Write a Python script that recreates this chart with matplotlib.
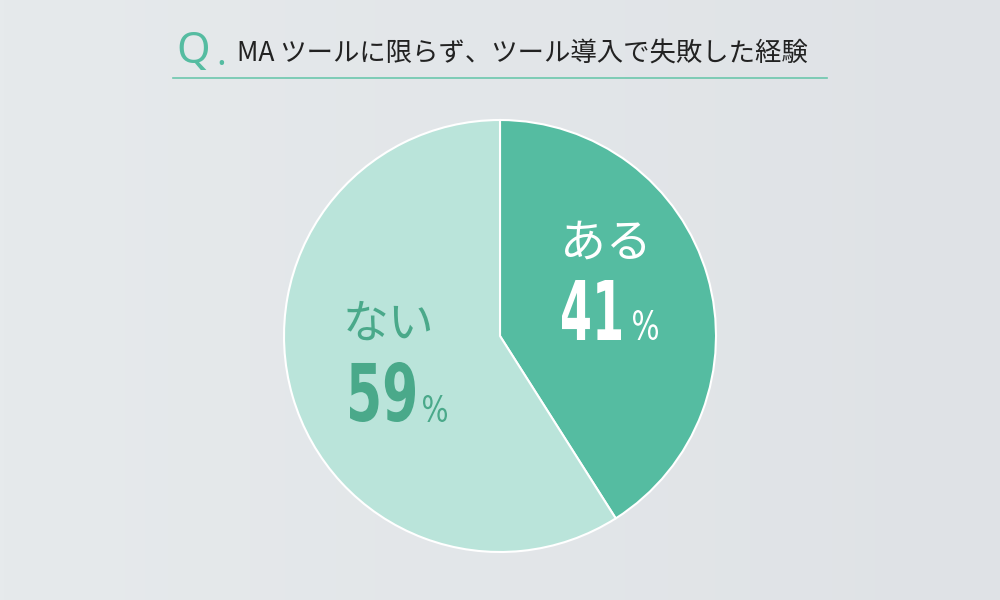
import numpy as np
import matplotlib.pyplot as plt
from matplotlib.colors import LinearSegmentedColormap
from matplotlib.textpath import TextPath
from matplotlib.font_manager import FontProperties
from matplotlib.patches import PathPatch
from matplotlib.transforms import Affine2D

plt.rcParams['font.family'] = ['Noto Sans CJK JP', 'DejaVu Sans']

title = "MA ツールに限らず、ツール導入で失敗した経験"
labels = ["ある", "ない"]
values = [41, 59]
colors = ["#55bca1", "#bae4da"]
text_colors = ["white", "#4aa98a"]

fig = plt.figure(figsize=(10, 6), dpi=100)
ax = fig.add_axes([0, 0, 1, 1])


def fit_text(s, x0, x1, y0, y1, color, family="DejaVu Sans", weight="normal"):
    # draw text squeezed into a pixel box (top y0, bottom y1)
    tp = TextPath((0, 0), s, size=100, prop=FontProperties(family=family, weight=weight))
    ext = tp.get_extents()
    sx = (x1 - x0) / ext.width
    sy = (y1 - y0) / ext.height
    tr = Affine2D().translate(-ext.x0, -ext.y0).scale(sx, -sy).translate(x0, y1)
    ax.add_patch(PathPatch(tr.transform_path(tp), fc=color, ec="none", zorder=3))


# soft background
grad = np.outer(np.ones(64), np.linspace(0, 1, 256))
cmap = LinearSegmentedColormap.from_list("bg", ["#e6eaec", "#dfe2e6"])
ax.imshow(grad, extent=[0, 1000, 600, 0], cmap=cmap, aspect="auto", zorder=0)

# y axis runs downward, so start at -90 and go counterclock in data = clockwise on screen
ax.pie(values, colors=colors, startangle=-90, counterclock=True,
       center=(500, 336), radius=216,
       wedgeprops=dict(edgecolor="white", linewidth=1.5, zorder=2))
ax.set_xlim(0, 1000)
ax.set_ylim(600, 0)
ax.set_aspect("equal")
ax.axis("off")

# title
ax.text(176, 63, "Q", fontsize=31, color="#55bca1", family="Noto Sans",
        fontweight="light", va="baseline", ha="left", zorder=3)
ax.text(216, 65, ".", fontsize=26, color="#55bca1", family="Noto Sans",
        fontweight="bold", va="baseline", ha="left", zorder=3)
ax.text(237, 54, title, fontsize=19, color="#222222", va="center",
        ha="left", zorder=3)
ax.plot([173, 827], [78, 78], color="#6cc7ad", lw=1.2, zorder=3)

# labels
ax.text(606, 243, labels[0], fontsize=33, color=text_colors[0],
        ha="center", va="center", zorder=3)
fit_text(str(values[0]), 562, 621, 280, 340, text_colors[0], weight="bold")
fit_text("%", 633, 658, 310, 340, text_colors[0])

ax.text(389, 324, labels[1], fontsize=33, color=text_colors[1],
        ha="center", va="center", zorder=3)
fit_text(str(values[1]), 350, 415, 362, 422, text_colors[1], weight="bold")
fit_text("%", 423, 447, 395, 422, text_colors[1])

fig.savefig("out.png", dpi=100)
